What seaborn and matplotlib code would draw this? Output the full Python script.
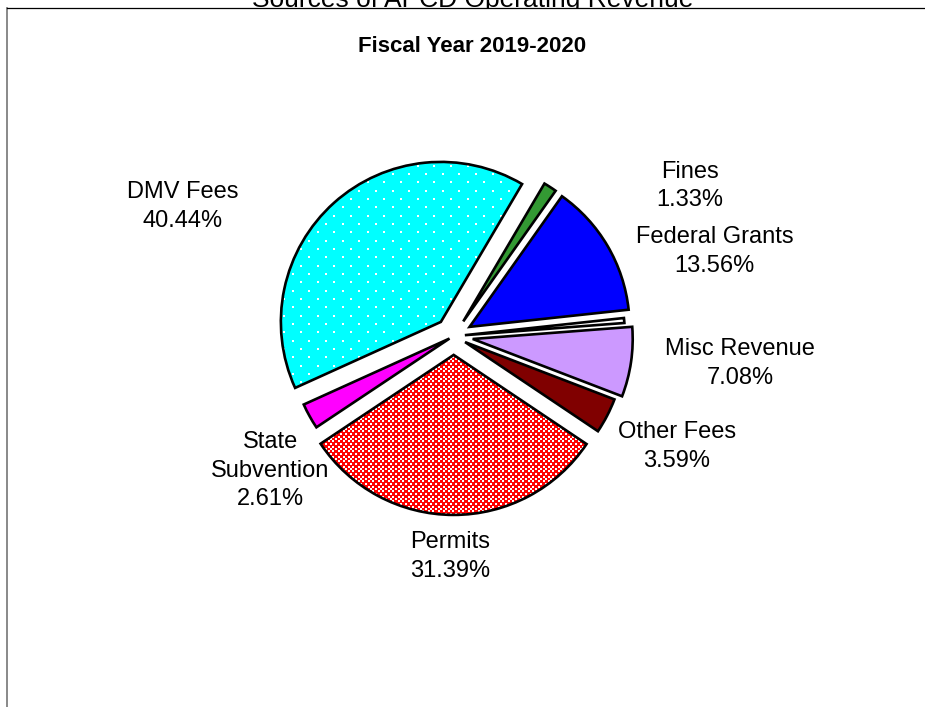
import warnings
warnings.filterwarnings('ignore')
import matplotlib
matplotlib.use('Agg')
import matplotlib.pyplot as plt
import matplotlib.hatch as mhatch
from matplotlib.path import Path
import seaborn as sns

# ---------------- data ----------------
categories = ['Fines', 'Federal Grants', 'Unlabeled sliver', 'Misc Revenue',
              'Other Fees', 'Permits', 'State\nSubvention', 'DMV Fees']
shares = [1.33, 13.56, 0.50, 7.08, 3.59, 31.39, 2.61, 40.44]
show_label = [True, True, False, True, True, True, True, True]
colors = ['#339933', '#0000FF', '#FFFFFF', '#CC99FF', '#800000', '#FF0000', '#FF00FF', '#00FFFF']
hatches = [None, None, None, None, None, 'k', None, 'd']
explode = [0.11, 0.115, 0.07, 0.12, 0.08, 0.117, 0.03, 0.12]
# label centres, in units of pie radius relative to pie centre
label_xy = [(1.475, 0.9375), (1.63, 0.53), None, (1.79, -0.17), (1.396, -0.69),
            (-0.023, -1.377), (-1.148, -0.84), (-1.695, 0.81)]
main_title = 'Sources of APCD Operating Revenue'
sub_title = 'Fiscal Year 2019-2020'


# ------------- custom fill textures (staggered squares) -------------
class StaggeredSquares(mhatch.HatchPatternBase):
    specs = {'d': (6, 12, 0.02), 'k': (20, 40, 0.02)}  # cols, rows, square size

    def __init__(self, hatch, density):
        self.spec = None
        for ch, spec in self.specs.items():
            if ch in hatch:
                self.spec = spec
        if self.spec:
            ncols, nrows, _ = self.spec
            self.num_vertices = ncols * nrows * 5
        else:
            self.num_vertices = 0

    def set_vertices_and_codes(self, vertices, codes):
        ncols, nrows, size = self.spec
        pts = []
        for r in range(nrows):
            y0 = round(100 * r / nrows) / 100
            off = (r % 2) * 0.5 / ncols
            for c in range(ncols):
                x0 = round(100 * (c / ncols + off)) / 100
                pts += [(x0, y0), (x0 + size, y0), (x0 + size, y0 + size),
                        (x0, y0 + size), (x0, y0)]
        vertices[:] = pts
        codes[:] = [Path.MOVETO, Path.LINETO, Path.LINETO, Path.LINETO,
                    Path.CLOSEPOLY] * (ncols * nrows)


mhatch._hatch_types.append(StaggeredSquares)

# ---------------- style ----------------
sns.set_theme(style='white')
plt.rcParams['font.family'] = ['Liberation Sans', 'DejaVu Sans']
plt.rcParams['hatch.linewidth'] = 0.0

W, H = 925, 707
fig = plt.figure(figsize=(W / 100, H / 100), dpi=100)
fig.patch.set_facecolor('white')

ax = fig.add_axes([7 / W, 0, 1 - 7 / W, 1 - 8 / H])

R_PX = 160.0
cx_px, cy_px = 453.7, 707 - 336.2  # pie centre in figure pixels (from bottom)

kw = dict(startangle=59.5, counterclock=False, explode=explode, radius=1.0)
ax.pie(shares, colors=colors, hatch=hatches,
       wedgeprops=dict(edgecolor='white', linewidth=0), **kw)
ax.pie(shares, colors=colors,
       wedgeprops=dict(fill=False, edgecolor='black', linewidth=1.9, joinstyle='miter'), **kw)

ax_left_px, ax_right_px = 7, W
ax_bottom_px, ax_top_px = 0, H - 8
ax.set_xlim((ax_left_px - cx_px) / R_PX, (ax_right_px - cx_px) / R_PX)
ax.set_ylim((ax_bottom_px - cy_px) / R_PX, (ax_top_px - cy_px) / R_PX)
ax.set_aspect('auto')
ax.set_frame_on(True)
ax.set_facecolor('white')
ax.set_xticks([])
ax.set_yticks([])
for s in ['right', 'bottom']:
    ax.spines[s].set_visible(False)
ax.spines['top'].set_color('black')
ax.spines['top'].set_linewidth(0.9)
ax.spines['left'].set_color('#808080')
ax.spines['left'].set_linewidth(1.3)

for name, val, show, xy in zip(categories, shares, show_label, label_xy):
    if not show:
        continue
    ax.text(xy[0], xy[1], f'{name}\n{val:.2f}%', ha='center', va='center',
            fontsize=17, linespacing=1.38, color='black')

fig.text(472.5 / W, 1 - 7 / H, main_title, ha='center', va='baseline',
         fontsize=19, color='black', zorder=-1)
fig.text(472.5 / W, 1 - 46 / H, sub_title, ha='center', va='center',
         fontsize=16, fontweight='bold', color='black')

fig.savefig('out.png', dpi=100)
